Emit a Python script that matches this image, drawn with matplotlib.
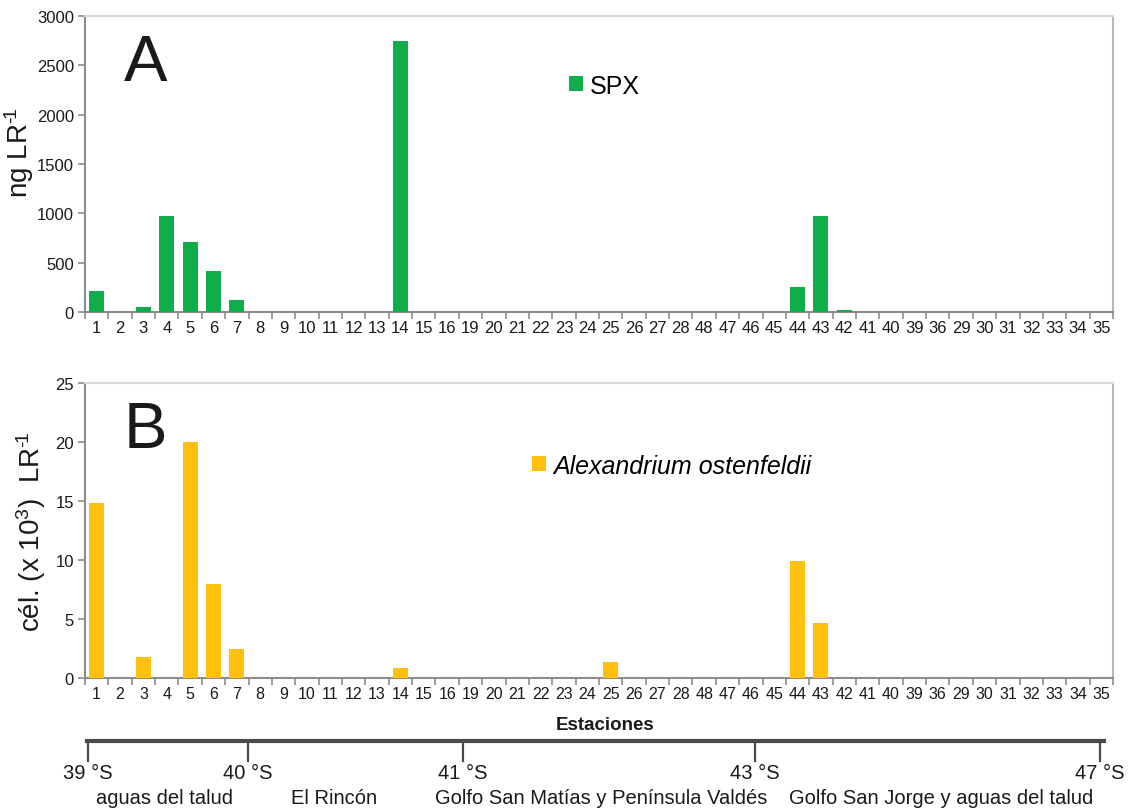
import matplotlib
matplotlib.use("Agg")
import matplotlib.pyplot as plt
import numpy as np

plt.rcParams['font.family'] = ['Liberation Sans', 'DejaVu Sans']
plt.rcParams['mathtext.fontset'] = 'custom'
plt.rcParams['mathtext.rm'] = 'Liberation Sans'
plt.rcParams['mathtext.it'] = 'Liberation Sans:italic'

# ---------------- data ----------------
stations = ['1', '2', '3', '4', '5', '6', '7', '8', '9', '10', '11', '12', '13', '14', '15', '16',
            '19', '20', '21', '22', '23', '24', '25', '26', '27', '28',
            '48', '47', '46', '45', '44', '43', '42', '41', '40', '39',
            '36', '29', '30', '31', '32', '33', '34', '35']

spx_values = {'1': 210, '3': 52, '4': 968, '5': 708, '6': 420, '7': 118,
              '14': 2742, '44': 250, '43': 975, '42': 24}
alex_values = {'1': 14.8, '3': 1.8, '5': 20.0, '6': 8.0, '7': 2.45,
               '14': 0.88, '25': 1.35, '44': 9.95, '43': 4.7}

spx = [spx_values.get(s, 0) for s in stations]
alex = [alex_values.get(s, 0) for s in stations]

lat_labels = ['39 °S', '40 °S', '41 °S', '43 °S', '47 °S']
region_labels = ['aguas del talud', 'El Rincón',
                 'Golfo San Matías y Península Valdés',
                 'Golfo San Jorge y aguas del talud']

# ---------------- layout ----------------
W, H = 1135, 812
fig = plt.figure(figsize=(W / 100, H / 100), dpi=100)

def fx(px):
    return px / W

def fy(py):
    return 1 - py / H

L, R = 85, 1113
axA = fig.add_axes([fx(L), fy(313), fx(R - L), fy(17) - fy(313)])
axB = fig.add_axes([fx(L), fy(679), fx(R - L), fy(384) - fy(679)])

green = '#10ad4b'
yellow = '#ffc010'
spine_dark = '#8c8c8c'
txt = '#1a1a1a'

def style(ax, ymax, ystep, xlabsize):
    n = len(stations)
    x = np.arange(n)
    ax.set_xlim(-0.5, n - 0.5)
    ax.set_ylim(0, ymax)
    ax.set_yticks(np.arange(0, ymax + 0.001, ystep))
    ax.set_xticks(x)
    ax.set_xticklabels(stations)
    ax.set_xticks(np.arange(-0.5, n, 1.0), minor=True)
    ax.tick_params(axis='x', which='major', length=0, pad=6, labelsize=xlabsize, labelcolor=txt)
    ax.tick_params(axis='x', which='minor', length=5, width=1.2, color=spine_dark, direction='out')
    ax.tick_params(axis='y', which='major', length=5, width=1.2, color=spine_dark, direction='out',
                   labelsize=12, pad=3, labelcolor=txt)
    ax.spines['left'].set_color(spine_dark)
    ax.spines['left'].set_linewidth(1.5)
    ax.spines['bottom'].set_color(spine_dark)
    ax.spines['bottom'].set_linewidth(1.5)
    ax.spines['top'].set_color('#d9d9d9')
    ax.spines['top'].set_linewidth(1.5)
    ax.spines['right'].set_color('#b8b8b8')
    ax.spines['right'].set_linewidth(1.5)

axW = R - L

x = np.arange(len(stations))
axA.bar(x, spx, width=0.64, color=green, label='SPX', zorder=3)
style(axA, 3000, 500, 12)
axA.set_ylabel('ng LR$^{\u2010\\!1}$', fontsize=20, color=txt)
axA.yaxis.set_label_coords((36.5 - L) / axW, (313 - 153) / 296)
axA.text(0.038, 0.84, 'A', transform=axA.transAxes, fontsize=47, va='center', ha='left', color=txt)
axA.legend(loc='center left', bbox_to_anchor=(0.461, 0.765), frameon=False,
           handlelength=0.55, handleheight=0.55, handletextpad=0.3, borderaxespad=0,
           prop={'size': 18})

axB.bar(x, alex, width=0.64, color=yellow, label='Alexandrium ostenfeldii', zorder=3)
style(axB, 25, 5, 11.5)
axB.set_ylabel('cél. (x 10$^{3}$)  LR$^{\u2010\\!1}$', fontsize=20, color=txt)
axB.yaxis.set_label_coords((48 - L) / axW, 0.5)
axB.text(0.038, 0.84, 'B', transform=axB.transAxes, fontsize=47, va='center', ha='left', color=txt)
axB.legend(loc='center left', bbox_to_anchor=(0.425, 0.72), frameon=False,
           handlelength=0.55, handleheight=0.55, handletextpad=0.3, borderaxespad=0,
           prop={'style': 'italic', 'size': 18})

fig.text(fx(605), fy(725), 'Estaciones', ha='center', va='center', fontsize=13.5,
         fontweight='bold', color=txt)

# ---------------- latitude bar ----------------
lat_px = [88, 248, 463, 755, 1100]
line_y = 742
fig.add_artist(plt.Line2D([fx(87), fx(1104)], [fy(line_y), fy(line_y)],
                          color='#4a4a4a', lw=3, transform=fig.transFigure))
for lab, px in zip(lat_labels, lat_px):
    fig.add_artist(plt.Line2D([fx(px), fx(px)], [fy(line_y), fy(762)],
                              color='#4a4a4a', lw=1.6, transform=fig.transFigure))
    fig.text(fx(px), fy(774), lab, ha='center', va='center', fontsize=14.5, color=txt)

region_px = [164, 334, 601, 941]
for lab, px in zip(region_labels, region_px):
    fig.text(fx(px), fy(799), lab, ha='center', va='center', fontsize=14.5, color=txt)

fig.savefig('out.png', dpi=100, facecolor='white')
